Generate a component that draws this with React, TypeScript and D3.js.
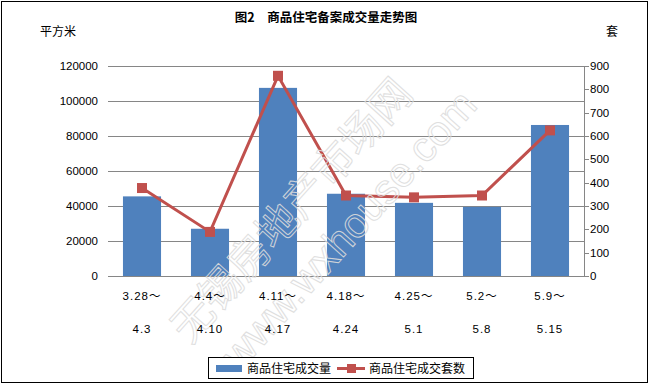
import React from 'react';
import * as d3 from 'd3';

// weekly periods (two-line labels)
const periodStart = ['3.28～', '4.4～', '4.11～', '4.18～', '4.25～', '5.2～', '5.9～'];
const periodEnd = ['4.3', '4.10', '4.17', '4.24', '5.1', '5.8', '5.15'];
// 商品住宅成交量 (平方米)
const areaValues = [45500, 27000, 107500, 47000, 41800, 39500, 86300];
// 商品住宅成交套数 (套)
const unitValues = [377, 189, 858, 345, 337, 345, 624];
const leftTicks = [0, 20000, 40000, 60000, 80000, 100000, 120000];
const rightTicks = [0, 100, 200, 300, 400, 500, 600, 700, 800, 900];

const W = 651;
const H = 387;
const font = '"Liberation Sans", "Noto Sans CJK SC", sans-serif';
const cjk = '"Noto Sans CJK SC", sans-serif';
const barColor = '#4F81BD';
const lineColor = '#C0504D';
const gridColor = '#868686';

const App = () => {
  const margin = {left: 108, right: 584, top: 66, bottom: 276};

  const x = d3.scaleBand()
    .domain(periodStart)
    .range([margin.left, margin.right])
    .paddingInner(0.44)
    .paddingOuter(0.22);
  const yLeft = d3.scaleLinear().domain([0, 120000]).range([margin.bottom, margin.top]);
  const yRight = d3.scaleLinear().domain([0, 900]).range([margin.bottom, margin.top]);

  const line = d3.line()
    .x((d, i) => x(periodStart[i]) + x.bandwidth() / 2)
    .y(d => yRight(d));

  return (
    <svg width={W} height={H} style={{position: 'absolute', left: 0, top: 0, background: '#fff'}}>
      <rect x={1.5} y={1.5} width={646} height={381} fill="#fff" stroke="#000" strokeWidth={1}/>

      <text x={326} y={22} textAnchor="middle" fontFamily={cjk} fontSize={12.5} fontWeight="bold">图2　商品住宅备案成交量走势图</text>
      <text x={40} y={36} fontFamily={cjk} fontSize={12}>平方米</text>
      <text x={606} y={36} fontFamily={cjk} fontSize={12}>套</text>

      {/* gridlines */}
      {leftTicks.map(t => (
        <line key={t} x1={margin.left} x2={margin.right} y1={Math.round(yLeft(t)) + 0.5} y2={Math.round(yLeft(t)) + 0.5}
              stroke={gridColor} strokeWidth={1}/>
      ))}
      {leftTicks.map(t => (
        <text key={'l' + t} x={98} y={yLeft(t) + 4} textAnchor="end" fontFamily={font} fontSize={11.5}>{t}</text>
      ))}

      {/* right axis */}
      <line x1={margin.right + 0.5} x2={margin.right + 0.5} y1={margin.top} y2={margin.bottom + 0.5} stroke={gridColor}/>
      {rightTicks.map(t => (
        <g key={'r' + t}>
          <line x1={margin.right} x2={margin.right + 5} y1={Math.round(yRight(t)) + 0.5} y2={Math.round(yRight(t)) + 0.5} stroke={gridColor}/>
          <text x={590} y={yRight(t) + 4} fontFamily={font} fontSize={11.5}>{t}</text>
        </g>
      ))}

      {/* bars */}
      {areaValues.map((v, i) => (
        <rect key={i} x={x(periodStart[i])} y={yLeft(v)} width={x.bandwidth()} height={margin.bottom - yLeft(v)} fill={barColor}/>
      ))}

      {/* line series */}
      <path d={line(unitValues)} fill="none" stroke={lineColor} strokeWidth={3}/>
      {unitValues.map((v, i) => (
        <rect key={i} x={x(periodStart[i]) + x.bandwidth() / 2 - 5} y={yRight(v) - 5} width={10} height={10} fill={lineColor}/>
      ))}

      {/* watermark, drawn over the plot */}
      <g fill="none" stroke="#dcdcdc" strokeWidth={1} opacity={0.9}>
        <text transform="translate(190,345) rotate(-48)" fontFamily={cjk} fontSize={42}>无锡房地产市场网</text>
        <text transform="translate(240,372) rotate(-48)" fontFamily={font} fontSize={42}>www.wxhouse.com</text>
      </g>

      {/* x labels */}
      {periodStart.map((p, i) => (
        <g key={p} fontFamily={font} fontSize={11.5} textAnchor="middle" letterSpacing={1}>
          <text x={x(p) + x.bandwidth() / 2} y={300}>{p}</text>
          <text x={x(p) + x.bandwidth() / 2} y={333}>{periodEnd[i]}</text>
        </g>
      ))}

      {/* legend */}
      <rect x={208.5} y={357.5} width={265} height={21} fill="#fff" stroke="#000" strokeWidth={1}/>
      <rect x={216} y={365} width={26} height={7} fill={barColor}/>
      <text x={247} y={372.5} fontFamily={cjk} fontSize={12}>商品住宅成交量</text>
      <line x1={337} x2={365} y1={368.5} y2={368.5} stroke={lineColor} strokeWidth={3}/>
      <rect x={347} y={364} width={9} height={9} fill={lineColor}/>
      <text x={369} y={372.5} fontFamily={cjk} fontSize={12}>商品住宅成交套数</text>
    </svg>
  );
};

export default App;
